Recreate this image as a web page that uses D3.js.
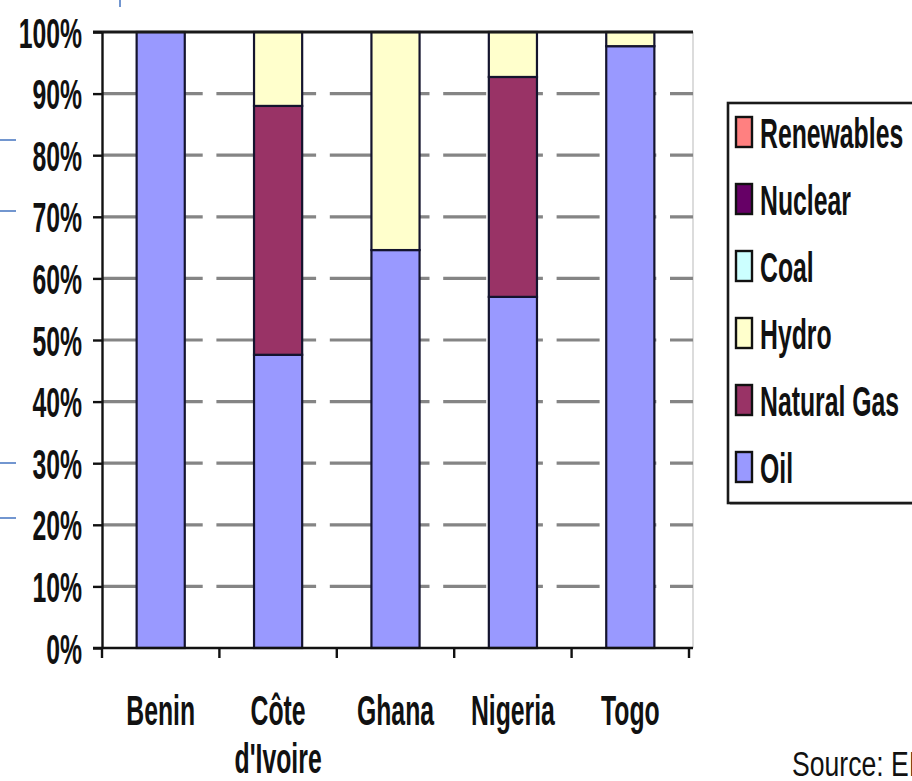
<!DOCTYPE html>
<html>
<head>
<meta charset="utf-8">
<script src="https://cdn.jsdelivr.net/npm/d3@7"></script>
<style>
  html, body { margin: 0; padding: 0; background: #fff; }
  svg { display: block; }
  text { font-family: Arial, "Liberation Sans", sans-serif; }
</style>
</head>
<body>
<div id="chart"></div>
<script>
// Electricity generation mix by fuel, share of total (%)
const categories = ["Benin", "Côte d'Ivoire", "Ghana", "Nigeria", "Togo"];
const oil        = [100, 47.6, 64.6, 57.0, 97.7];
const naturalGas = [0, 40.4, 0, 35.7, 0];
const hydro      = [0, 12.0, 35.4, 7.3, 2.3];
const coal       = [0, 0, 0, 0, 0];
const nuclear    = [0, 0, 0, 0, 0];
const renewables = [0, 0, 0, 0, 0];

const seriesNames = ["Oil", "Natural Gas", "Hydro", "Coal", "Nuclear", "Renewables"];
const seriesValues = [oil, naturalGas, hydro, coal, nuclear, renewables];
const seriesColors = ["#9999FF", "#993366", "#FFFFCC", "#CCFFFF", "#660066", "#FF8080"];
const yTicks = [0, 10, 20, 30, 40, 50, 60, 70, 80, 90, 100];
const sourceNote = "Source: EIA";

const W = 912, H = 781;
const SX = 0.59; // horizontal squeeze of the condensed lettering

const svg = d3.select("#chart").append("svg")
  .attr("width", W).attr("height", H);

const x = d3.scaleBand().domain(categories)
  .range([102, 689]).paddingInner(0.59).paddingOuter(0.295);
const y = d3.scaleLinear().domain([0, 100]).range([648, 32]);
const plotRight = 693;

// rows for stacking
const rows = categories.map((c, i) => {
  const r = { category: c };
  seriesNames.forEach((s, k) => r[s] = seriesValues[k][i]);
  return r;
});
const stacked = d3.stack().keys(seriesNames)(rows);
const color = d3.scaleOrdinal().domain(seriesNames).range(seriesColors);

// plot area right border
svg.append("line")
  .attr("x1", plotRight).attr("x2", plotRight)
  .attr("y1", y(100)).attr("y2", y(0))
  .attr("stroke", "#d0d0d0").attr("stroke-width", 1.5);

// dashed gridlines
svg.append("g").selectAll("line")
  .data(yTicks.filter(t => t > 0 && t < 100))
  .join("line")
  .attr("x1", 103).attr("x2", plotRight)
  .attr("y1", d => y(d)).attr("y2", d => y(d))
  .attr("stroke", "#858585").attr("stroke-width", 3.2)
  .attr("stroke-dasharray", "43,13.7");

// stacked bars
svg.append("g").selectAll("g")
  .data(stacked)
  .join("g")
  .attr("fill", d => color(d.key))
  .selectAll("rect")
  .data(d => d.filter(p => p[1] - p[0] > 0))
  .join("rect")
  .attr("x", d => x(d.data.category))
  .attr("width", x.bandwidth())
  .attr("y", d => y(d[1]))
  .attr("height", d => y(d[0]) - y(d[1]))
  .attr("stroke", "#14142e").attr("stroke-width", 2.2);

// top border line at 100%
svg.append("line")
  .attr("x1", 93).attr("x2", plotRight)
  .attr("y1", y(100)).attr("y2", y(100))
  .attr("stroke", "#1a1a1a").attr("stroke-width", 3.2);

// y axis
const yAxis = svg.append("g")
  .attr("transform", "translate(102,0)")
  .call(d3.axisLeft(y).tickValues(yTicks).tickFormat(d => d + "%")
        .tickSize(9).tickSizeOuter(0));
yAxis.select(".domain").attr("stroke", "#111").attr("stroke-width", 2.4);
yAxis.selectAll(".tick line").attr("stroke", "#111").attr("stroke-width", 2.4);
yAxis.selectAll(".tick text")
  .attr("x", -20 / SX).attr("dy", "0.36em")
  .attr("transform", `scale(${SX},1)`)
  .attr("fill", "#111")
  .style("font-size", "42px").style("font-weight", "bold");

// x axis
const xAxis = svg.append("g")
  .attr("transform", `translate(0,${y(0)})`)
  .call(d3.axisBottom(x).tickSize(0).tickSizeOuter(0).tickFormat(""));
xAxis.select(".domain").attr("stroke", "#111").attr("stroke-width", 2.6)
  .attr("d", `M93,0H${plotRight}`);
const step = x.step();
const boundaries = d3.range(categories.length + 1).map(i => x.range()[0] + i * step);
xAxis.append("g").selectAll("line")
  .data(boundaries)
  .join("line")
  .attr("x1", d => d).attr("x2", d => d)
  .attr("y1", 0).attr("y2", 10)
  .attr("stroke", "#111").attr("stroke-width", 2.4);

// category labels (wrapped at spaces)
const catLabels = svg.append("g").selectAll("g")
  .data(categories)
  .join("g")
  .attr("transform", d => `translate(${x(d) + x.bandwidth() / 2},725) scale(${SX},1)`);
catLabels.each(function (d) {
  const words = d.split(" ");
  const t = d3.select(this).append("text")
    .attr("text-anchor", "middle")
    .attr("fill", "#111")
    .style("font-size", "42px").style("font-weight", "bold");
  words.forEach((w, i) => {
    t.append("tspan").attr("x", 0).attr("y", i * 48).text(w);
  });
});

// legend
const legendTop = 103, legendLeft = 728;
svg.append("rect")
  .attr("x", legendLeft + 2).attr("y", legendTop + 2)
  .attr("width", W).attr("height", 400)
  .attr("fill", "#bbb");
svg.append("rect")
  .attr("x", legendLeft).attr("y", legendTop)
  .attr("width", W).attr("height", 400)
  .attr("fill", "#fff").attr("stroke", "#1a1a1a").attr("stroke-width", 2.6);

const legendOrder = seriesNames.slice().reverse();
const legendItems = svg.append("g").selectAll("g")
  .data(legendOrder)
  .join("g")
  .attr("transform", (d, i) => `translate(736,${132 + i * 67})`);
legendItems.append("rect")
  .attr("x", 0).attr("y", -15)
  .attr("width", 16).attr("height", 30)
  .attr("fill", d => color(d))
  .attr("stroke", "#111").attr("stroke-width", 2.4);
legendItems.append("text")
  .attr("transform", `translate(24,16) scale(${SX},1)`)
  .attr("fill", "#111")
  .style("font-size", "42px").style("font-weight", "bold")
  .text(d => d);

// source note
svg.append("text")
  .attr("transform", "translate(792,776) scale(0.76,1)")
  .attr("fill", "#111")
  .style("font-size", "35px")
  .text(sourceNote);

// slide guide marks along the left edge
const guideYs = [140, 211, 463, 518];
svg.append("g").selectAll("line")
  .data(guideYs)
  .join("line")
  .attr("x1", 0).attr("x2", 16)
  .attr("y1", d => d).attr("y2", d => d)
  .attr("stroke", "#4f7cc4").attr("stroke-width", 1.6);
svg.append("line")
  .attr("x1", 120).attr("x2", 120).attr("y1", 0).attr("y2", 7)
  .attr("stroke", "#4f7cc4").attr("stroke-width", 1.6);
</script>
</body>
</html>
